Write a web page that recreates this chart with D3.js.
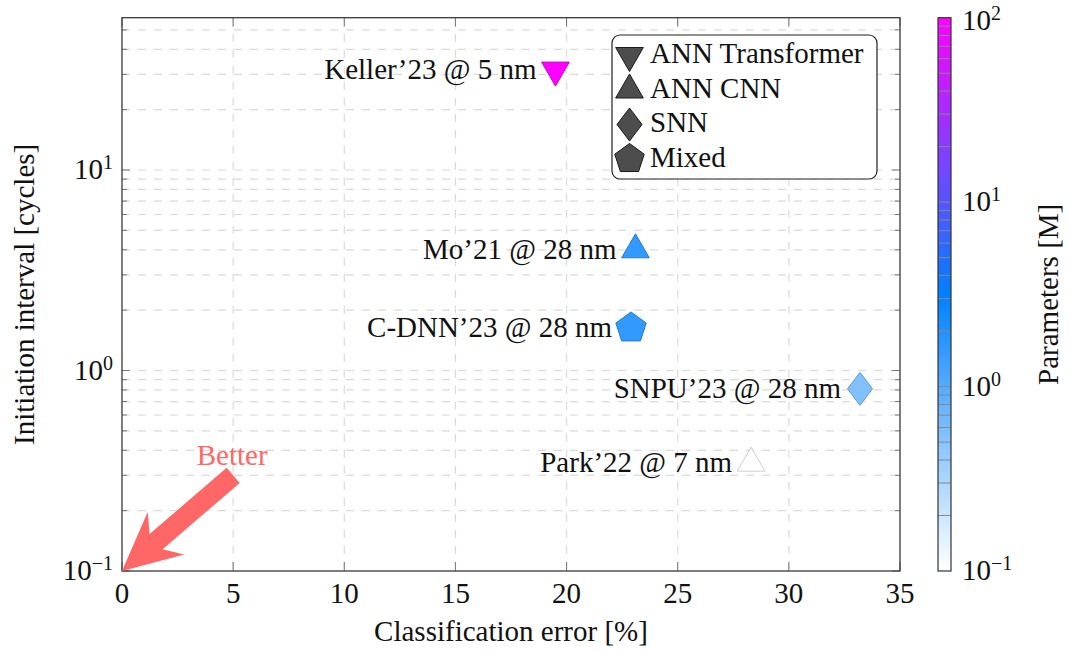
<!DOCTYPE html>
<html lang="en">
<head>
<meta charset="UTF-8">
<title>Initiation interval vs classification error</title>
<script src="https://cdn.jsdelivr.net/npm/d3@7"></script>
<style>
body { margin: 0; background: #fff; }
svg { display: block; }
svg text { font-family: "Liberation Serif", "DejaVu Serif", "Times New Roman", serif; fill: #111; }
.grid line { stroke: #dadada; stroke-dasharray: 8,8; stroke-width: 1.2; }
.tk { stroke: #777; stroke-width: 1; }
</style>
</head>
<body>
<script>
// data
const names = ["Keller’23 @ 5 nm", "Mo’21 @ 28 nm", "C-DNN’23 @ 28 nm", "SNPU’23 @ 28 nm", "Park’22 @ 7 nm"]
const errors = [19.5, 23.1, 22.9, 33.2, 28.3]
const intervals = [31.5, 4.0, 1.63, 0.81, 0.345]
const params = [100, 1.6, 1.6, 0.56, 0.1]
const kinds = ["ANN Transformer", "ANN CNN", "Mixed", "SNN", "ANN CNN"]

const legendKinds = ["ANN Transformer", "ANN CNN", "SNN", "Mixed"]
const xTicks = [0, 5, 10, 15, 20, 25, 30, 35]
const yMajor = [0.1, 1, 10]
const cbMajor = [0.1, 1, 10, 100]

const width = 1070, height = 651
const plot = {left: 122, right: 900, top: 17.7, bottom: 571}
const cb = {left: 938, right: 951}
const fontSize = 29

const svg = d3.select("body").append("svg")
    .attr("width", width).attr("height", height)
    .attr("font-family", "'Liberation Serif', 'DejaVu Serif', serif")

const x = d3.scaleLinear().domain([0, 35]).range([plot.left, plot.right])
const y = d3.scaleLog().domain([0.1, 57.5]).range([plot.bottom, plot.top])
const cbScale = d3.scaleLog().domain([0.1, 100]).range([plot.bottom, plot.top])

// colormap: white -> azure -> magenta over log(params)
const cmap = d3.scaleLinear().domain([0, 0.5, 1])
    .range(["#ffffff", "#0080ff", "#ff00ff"]).interpolate(d3.interpolateRgb)
const colorOf = p => cmap((Math.log10(p) + 1) / 3)
const darker = c => { const k = d3.rgb(c); return d3.rgb(k.r * 0.8, k.g * 0.8, k.b * 0.8).formatHex() }

// minor log ticks
function logTicks(lo, hi) {
    let out = []
    for (let e = -1; e <= 2; e++) {
        for (let m = 1; m <= 9; m++) {
            const v = m * Math.pow(10, e)
            if (v >= lo - 1e-9 && v <= hi) out.push(v)
        }
    }
    return out
}
const yAll = logTicks(0.1, 57.5)
const cbAll = logTicks(0.1, 100)

// grid
const grid = svg.append("g").attr("class", "grid")
grid.selectAll(".hg").data(yAll.filter(v => v > 0.1)).enter().append("line")
    .attr("x1", plot.left).attr("x2", plot.right)
    .attr("y1", d => y(d)).attr("y2", d => y(d))
grid.selectAll(".vg").data(xTicks.slice(1, -1)).enter().append("line")
    .attr("x1", d => x(d)).attr("x2", d => x(d))
    .attr("y1", plot.top).attr("y2", plot.bottom)

// tick marks (inward, both sides)
const ticks = svg.append("g")
yAll.forEach(v => {
    const len = yMajor.includes(v) ? 8 : 5
    ticks.append("line").attr("class", "tk")
        .attr("x1", plot.left).attr("x2", plot.left + len).attr("y1", y(v)).attr("y2", y(v))
    ticks.append("line").attr("class", "tk")
        .attr("x1", plot.right).attr("x2", plot.right - len).attr("y1", y(v)).attr("y2", y(v))
})
xTicks.forEach(v => {
    ticks.append("line").attr("class", "tk")
        .attr("x1", x(v)).attr("x2", x(v)).attr("y1", plot.bottom).attr("y2", plot.bottom - 9)
    ticks.append("line").attr("class", "tk")
        .attr("x1", x(v)).attr("x2", x(v)).attr("y1", plot.top).attr("y2", plot.top + 9)
})

// frame
svg.append("rect")
    .attr("x", plot.left).attr("y", plot.top)
    .attr("width", plot.right - plot.left).attr("height", plot.bottom - plot.top)
    .attr("fill", "none").attr("stroke", "#3a3a3a").attr("stroke-width", 1.3)

// x tick labels
svg.append("g").selectAll("text").data(xTicks).enter().append("text")
    .attr("x", d => x(d)).attr("y", plot.bottom + 32)
    .attr("text-anchor", "middle").attr("font-size", fontSize)
    .text(d => d)

// power-of-ten label helper
function powLabel(g, v, px, py, anchor) {
    const t = g.append("text").attr("x", px).attr("y", py)
        .attr("text-anchor", anchor).attr("font-size", fontSize)
    t.append("tspan").text("10")
    t.append("tspan").attr("dy", -10).attr("font-size", 20)
        .text(String(Math.round(Math.log10(v))).replace("-", "−"))
}
const yl = svg.append("g")
yMajor.forEach(v => powLabel(yl, v, plot.left - 9, y(v) + 9, "end"))

// axis titles
svg.append("text")
    .attr("x", (plot.left + plot.right) / 2).attr("y", 641)
    .attr("text-anchor", "middle").attr("font-size", fontSize)
    .text("Classification error [%]")
svg.append("text")
    .attr("transform", `translate(34,${(plot.top + plot.bottom) / 2}) rotate(-90)`)
    .attr("text-anchor", "middle").attr("font-size", fontSize)
    .text("Initiation interval [cycles]")

// "Better" arrow from (5, 0.3) to (0, 0.1)
const tail = [x(5), y(0.3)], tip = [x(0), y(0.1)]
const dx = tip[0] - tail[0], dy = tip[1] - tail[1], L = Math.hypot(dx, dy)
const u = [dx / L, dy / L], n = [-u[1], u[0]]
const pt = (base, a, b) => [base[0] + u[0] * a + n[0] * b, base[1] + u[1] * a + n[1] * b]
const arrowPts = [
    pt(tail, 0, 10), pt(tip, -45, 10), pt(tip, -58, 28), tip,
    pt(tip, -58, -28), pt(tip, -45, -10), pt(tail, 0, -10)
]
svg.append("path").attr("d", "M" + arrowPts.map(p => p.join(",")).join("L") + "Z")
    .attr("fill", "#ff6666")
svg.append("text")
    .attr("x", x(5) - 1).attr("y", y(0.3) - 10)
    .attr("text-anchor", "middle").attr("font-size", fontSize)
    .style("fill", "#ff6666").text("Better")

// marker shapes
function shape(kind, r) {
    r = r || 16
    let pts
    if (kind === "ANN Transformer") pts = [[0, r], [-r * 0.866, -r / 2], [r * 0.866, -r / 2]]
    else if (kind === "ANN CNN") pts = [[0, -r], [r * 0.866, r / 2], [-r * 0.866, r / 2]]
    else if (kind === "SNN") pts = [[0, -16.5], [12.5, 0], [0, 16.5], [-12.5, 0]]
    else pts = d3.range(5).map(k => {
        const a = (-90 + 72 * k) * Math.PI / 180
        return [r * Math.cos(a), r * Math.sin(a)]
    })
    return "M" + pts.map(p => p.join(",")).join("L") + "Z"
}

// points and labels
const pts = names.map((nm, i) => ({name: nm, err: errors[i], ii: intervals[i], p: params[i], kind: kinds[i]}))
const pg = svg.append("g").selectAll("g").data(pts).enter().append("g")
    .attr("transform", d => `translate(${x(d.err)},${y(d.ii)})`)
pg.append("path")
    .attr("d", d => shape(d.kind))
    .attr("fill", d => colorOf(d.p))
    .attr("stroke", d => darker(colorOf(d.p)))
    .attr("stroke-width", 1)
pg.append("text")
    .attr("x", -19).attr("y", 9)
    .attr("text-anchor", "end").attr("font-size", fontSize)
    .text(d => d.name)

// legend
const lg = svg.append("g")
lg.append("rect").attr("x", 612).attr("y", 35).attr("width", 265).attr("height", 144)
    .attr("rx", 8).attr("fill", "#fff").attr("stroke", "#222").attr("stroke-width", 1.2)
const rowY = d3.scalePoint().domain(legendKinds).range([55.5, 159])
legendKinds.forEach(k => {
    lg.append("path").attr("d", shape(k, k === "Mixed" ? 15.5 : 16))
        .attr("transform", `translate(629.5,${rowY(k)})`)
        .attr("fill", "#4d4d4d").attr("stroke", "#1a1a1a")
    lg.append("text").attr("x", 650).attr("y", rowY(k) + 7.5)
        .attr("font-size", fontSize).text(k)
})

// colorbar
const grad = svg.append("defs").append("linearGradient").attr("id", "cbgrad")
    .attr("x1", 0).attr("y1", 1).attr("x2", 0).attr("y2", 0)
grad.selectAll("stop").data([0, 0.5, 1]).enter().append("stop")
    .attr("offset", d => d).attr("stop-color", d => cmap(d))
svg.append("rect").attr("x", cb.left).attr("y", plot.top)
    .attr("width", cb.right - cb.left).attr("height", plot.bottom - plot.top)
    .attr("fill", "url(#cbgrad)")
svg.append("g").selectAll("line").data(cbAll.filter(v => v > 0.1 && v < 100)).enter().append("line")
    .attr("x1", cb.left).attr("x2", cb.right)
    .attr("y1", d => cbScale(d)).attr("y2", d => cbScale(d))
    .attr("stroke", "#888").attr("stroke-width", 1)
svg.append("rect").attr("x", cb.left).attr("y", plot.top)
    .attr("width", cb.right - cb.left).attr("height", plot.bottom - plot.top)
    .attr("fill", "none").attr("stroke", "#333").attr("stroke-width", 1.2)
const cl = svg.append("g")
cbMajor.forEach(v => powLabel(cl, v, cb.right + 11, Math.max(cbScale(v) + 9, 30), "start"))
svg.append("text")
    .attr("transform", `translate(1058,${(plot.top + plot.bottom) / 2}) rotate(-90)`)
    .attr("text-anchor", "middle").attr("font-size", fontSize)
    .text("Parameters [M]")
</script>
</body>
</html>
